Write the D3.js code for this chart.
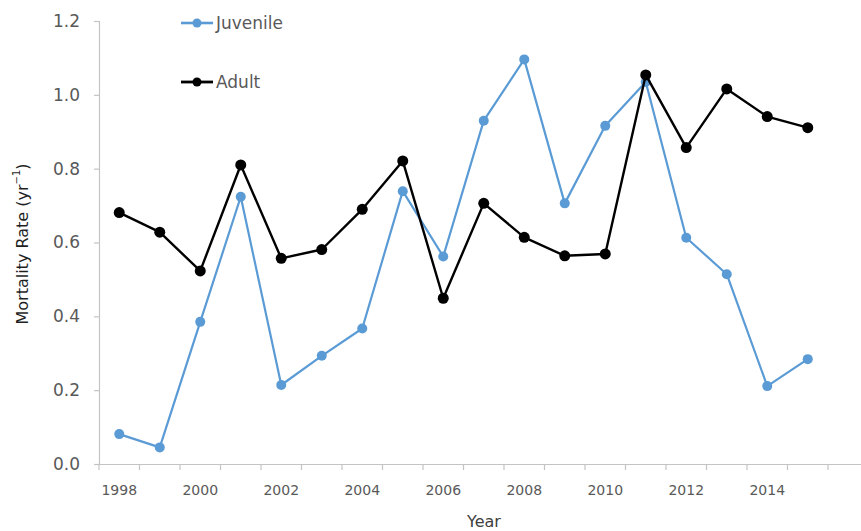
<!DOCTYPE html>
<html>
<head>
<meta charset="utf-8">
<script src="https://cdn.jsdelivr.net/npm/d3@7"></script>
<style>
  html, body { margin: 0; padding: 0; background: #fff; }
  svg { display: block; font-family: "DejaVu Sans", sans-serif; }
</style>
</head>
<body>
<svg id="chart" width="861" height="531"></svg>
<script>
// Annual mortality rates by life stage
const years = [1998, 1999, 2000, 2001, 2002, 2003, 2004, 2005, 2006, 2007,
               2008, 2009, 2010, 2011, 2012, 2013, 2014, 2015];
const juvenile = [0.081, 0.045, 0.385, 0.724, 0.214, 0.293, 0.367, 0.739, 0.562, 0.930,
                  1.096, 0.706, 0.916, 1.035, 0.613, 0.514, 0.211, 0.284];
const adult = [0.681, 0.628, 0.523, 0.810, 0.557, 0.581, 0.690, 0.821, 0.449, 0.706,
               0.614, 0.564, 0.569, 1.054, 0.857, 1.016, 0.941, 0.911];
// Category slots on the axis run one year past the data
const categories = [...years, 2016];
const xTickLabels = [1998, 2000, 2002, 2004, 2006, 2008, 2010, 2012, 2014];
const yTicks = [0, 0.2, 0.4, 0.6, 0.8, 1.0, 1.2];

const seriesList = [
  { name: "Juvenile", values: juvenile, color: "#5B9BD5", width: 2.2, r: 5 },
  { name: "Adult", values: adult, color: "#000000", width: 2.4, r: 5.5 }
];

const svg = d3.select("#chart");
const plotLeft = 99, plotBottom = 464, plotTop = 21;
const step = 40.5;

const x = d3.scaleBand()
  .domain(categories)
  .range([plotLeft, plotLeft + step * categories.length])
  .paddingInner(0).paddingOuter(0);
const y = d3.scaleLinear().domain([0, 1.2]).range([plotBottom, plotTop]);

const axisColor = "#c4c4c4";
const tickText = "#595959";

// Y axis
const yAxis = svg.append("g")
  .attr("transform", `translate(${plotLeft},0)`)
  .call(d3.axisLeft(y).tickValues(yTicks).tickFormat(d3.format(".1f"))
        .tickSize(5).tickPadding(14));
yAxis.select(".domain").attr("stroke", axisColor).attr("stroke-width", 1.2);
yAxis.selectAll(".tick line").attr("stroke", axisColor).attr("stroke-width", 1.2);
yAxis.selectAll(".tick text").attr("fill", tickText).attr("font-size", 17)
  .attr("font-family", "DejaVu Sans, sans-serif");

// X axis: labels centred on the category, ticks on category boundaries
const xAxis = svg.append("g")
  .attr("transform", `translate(0,${plotBottom})`)
  .call(d3.axisBottom(x).tickValues(xTickLabels).tickSize(0).tickPadding(21));
xAxis.select(".domain").attr("stroke", axisColor).attr("stroke-width", 1.2);
xAxis.selectAll(".tick text").attr("fill", tickText).attr("font-size", 14)
  .attr("font-family", "DejaVu Sans, sans-serif");
xAxis.selectAll(".tick-mark")
  .data(categories)
  .join("line")
  .attr("class", "tick-mark")
  .attr("x1", d => x(d)).attr("x2", d => x(d))
  .attr("y1", 0).attr("y2", 6)
  .attr("stroke", axisColor).attr("stroke-width", 1.2);

// Axis titles
svg.append("text")
  .attr("x", 484).attr("y", 527)
  .attr("text-anchor", "middle")
  .attr("font-size", 16).attr("fill", "#404040")
  .text("Year");

const yTitle = svg.append("text")
  .attr("transform", "translate(22,244) rotate(-90)")
  .attr("text-anchor", "middle")
  .attr("dominant-baseline", "central")
  .attr("font-size", 16).attr("fill", "#1f1f1f");
yTitle.append("tspan").text("Mortality Rate (yr");
yTitle.append("tspan").attr("font-size", 10).attr("dy", -6).text("−1");
yTitle.append("tspan").attr("dy", 6).text(")");

// Series lines and markers
const line = d3.line()
  .x((d, i) => x(years[i]) + x.bandwidth() / 2)
  .y(d => y(d));

seriesList.forEach(s => {
  const g = svg.append("g");
  g.append("path")
    .datum(s.values)
    .attr("d", line)
    .attr("fill", "none")
    .attr("stroke", s.color)
    .attr("stroke-width", s.width)
    .attr("stroke-linejoin", "round");
  g.selectAll("circle")
    .data(s.values)
    .join("circle")
    .attr("cx", (d, i) => x(years[i]) + x.bandwidth() / 2)
    .attr("cy", d => y(d))
    .attr("r", s.r)
    .attr("fill", s.color);
});

// Legend
const legendRows = [{ s: seriesList[0], cy: 23 }, { s: seriesList[1], cy: 82 }];
legendRows.forEach(({ s, cy }) => {
  const g = svg.append("g");
  g.append("line")
    .attr("x1", 181).attr("x2", 213).attr("y1", cy).attr("y2", cy)
    .attr("stroke", s.color).attr("stroke-width", s.width + 0.4);
  g.append("circle").attr("cx", 197).attr("cy", cy).attr("r", 4.5).attr("fill", s.color);
  g.append("text")
    .attr("x", 216).attr("y", cy)
    .attr("dominant-baseline", "central")
    .attr("font-size", 17).attr("fill", tickText)
    .text(s.name);
});
</script>
</body>
</html>
